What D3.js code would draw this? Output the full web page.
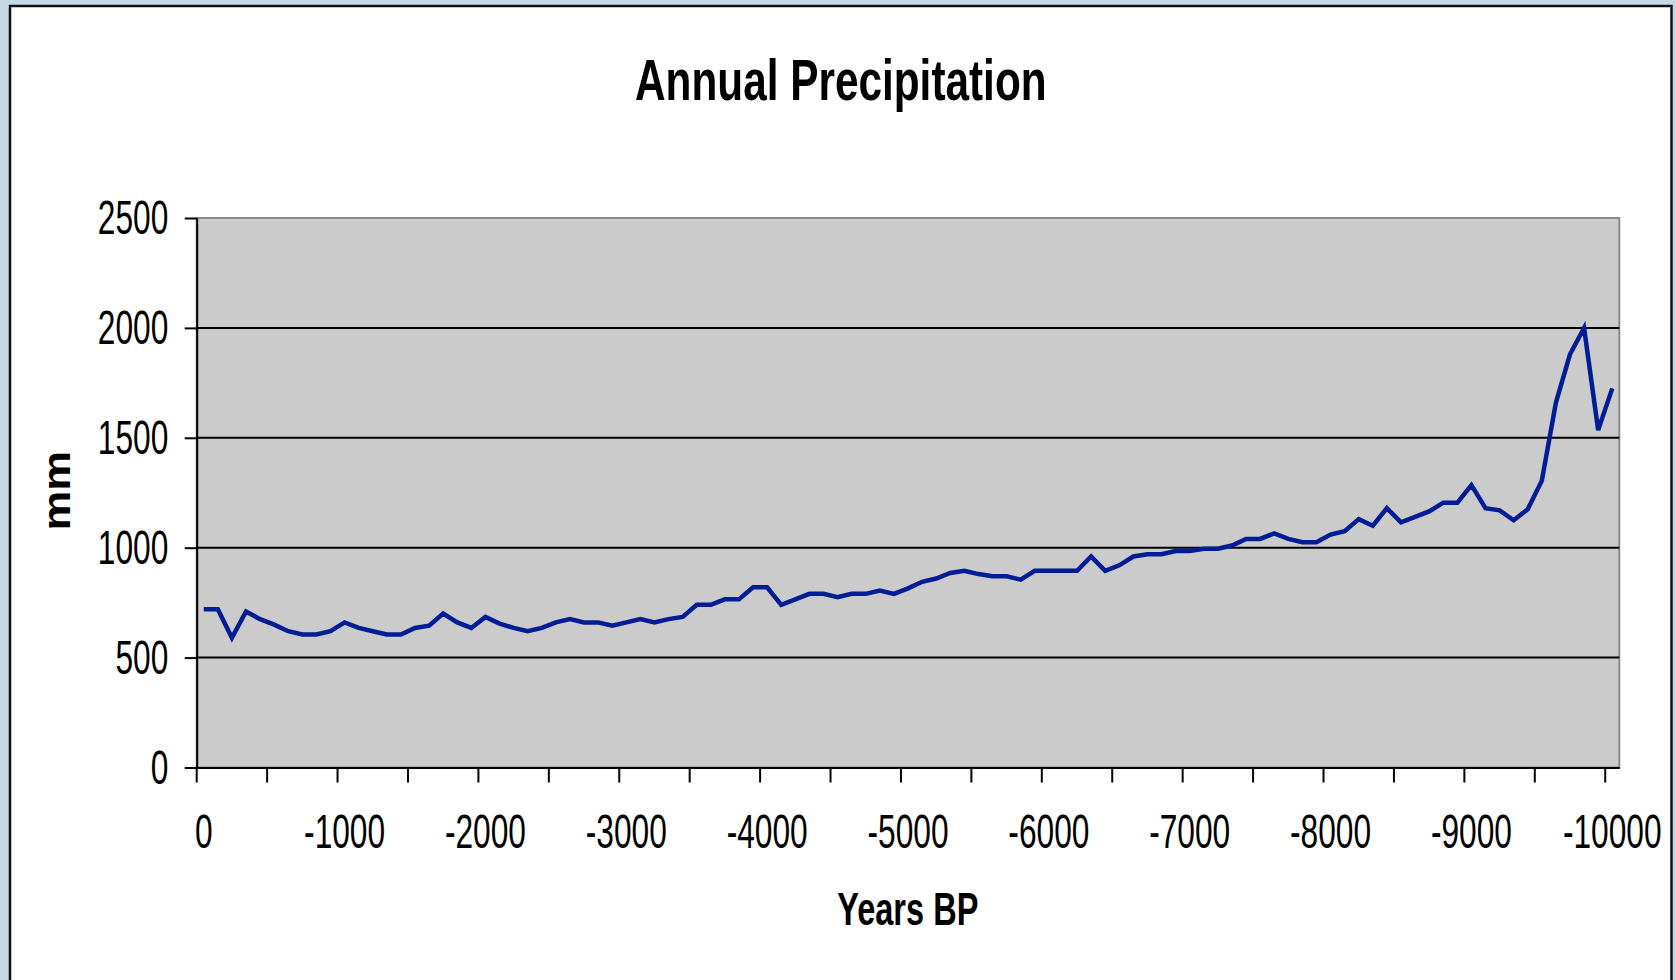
<!DOCTYPE html>
<html>
<head>
<meta charset="utf-8">
<title>Annual Precipitation</title>
<script src="https://cdnjs.cloudflare.com/ajax/libs/d3/7.8.5/d3.min.js"></script>
<style>
body { margin: 0; background: #c6d8e5; overflow: hidden; }
svg { display: block; }
text { font-family: "Liberation Sans", Arial, sans-serif; fill: #000; }
</style>
</head>
<body>
<div id="chart"></div>
<script>
// years before present, one category every 100 years
var years = [0, -100, -200, -300, -400, -500, -600, -700, -800, -900,
    -1000, -1100, -1200, -1300, -1400, -1500, -1600, -1700, -1800, -1900,
    -2000, -2100, -2200, -2300, -2400, -2500, -2600, -2700, -2800, -2900,
    -3000, -3100, -3200, -3300, -3400, -3500, -3600, -3700, -3800, -3900,
    -4000, -4100, -4200, -4300, -4400, -4500, -4600, -4700, -4800, -4900,
    -5000, -5100, -5200, -5300, -5400, -5500, -5600, -5700, -5800, -5900,
    -6000, -6100, -6200, -6300, -6400, -6500, -6600, -6700, -6800, -6900,
    -7000, -7100, -7200, -7300, -7400, -7500, -7600, -7700, -7800, -7900,
    -8000, -8100, -8200, -8300, -8400, -8500, -8600, -8700, -8800, -8900,
    -9000, -9100, -9200, -9300, -9400, -9500, -9600, -9700, -9800, -9900,
    -10000];

// annual precipitation (mm)
var precip = [720, 720, 590, 710, 675, 650, 620, 605, 605, 620,
    660, 635, 620, 605, 605, 635, 645, 700, 660, 635,
    685, 655, 635, 620, 635, 660, 675, 660, 660, 645,
    660, 675, 660, 675, 685, 740, 740, 765, 765, 820,
    820, 740, 765, 790, 790, 775, 790, 790, 805, 790,
    815, 845, 860, 885, 895, 880, 870, 870, 855, 895,
    895, 895, 895, 960, 895, 920, 960, 970, 970, 985,
    985, 995, 995, 1010, 1040, 1040, 1065, 1040, 1025, 1025,
    1060, 1075, 1130, 1100, 1180, 1115, 1140, 1165, 1205, 1205,
    1285, 1180, 1170, 1125, 1175, 1305, 1660, 1880, 2000, 1535,
    1725];

var yTicks = [0, 500, 1000, 1500, 2000, 2500];
var xLabelYears = [0, -1000, -2000, -3000, -4000, -5000, -6000, -7000, -8000, -9000, -10000];

var width = 1676,
    height = 980;

var plotLeft = 196.7,
    plotRight = 1619.3,
    plotTop = 218,
    plotBottom = 767.5;

var svg = d3.select("#chart").append("svg")
    .attr("width", width)
    .attr("height", height);

// white chart frame
svg.append("rect")
    .attr("x", 10)
    .attr("y", 6)
    .attr("width", 1661.5)
    .attr("height", 1000)
    .attr("fill", "#ffffff")
    .attr("stroke", "#111111")
    .attr("stroke-width", 2.5);

var xScale = d3.scaleBand()
    .domain(years)
    .range([plotLeft, plotRight]);

var yScale = d3.scaleLinear()
    .domain([0, 2500])
    .range([plotBottom, plotTop]);

// plot area
svg.append("rect")
    .attr("x", plotLeft)
    .attr("y", plotTop)
    .attr("width", plotRight - plotLeft)
    .attr("height", plotBottom - plotTop)
    .attr("fill", "#cbcbcb")
    .attr("stroke", "#8a8a8a")
    .attr("stroke-width", 2);

// gridlines
svg.append("g")
    .selectAll("line")
    .data(yTicks.filter(function(d) { return d > 0 && d < 2500; }))
    .enter()
    .append("line")
    .attr("x1", plotLeft)
    .attr("x2", plotRight)
    .attr("y1", function(d) { return yScale(d); })
    .attr("y2", function(d) { return yScale(d); })
    .attr("stroke", "#000")
    .attr("stroke-width", 2);

// y axis
var yAxis = svg.append("g")
    .attr("transform", "translate(" + plotLeft + ",0)")
    .call(d3.axisLeft(yScale).tickValues(yTicks).tickFormat(d3.format("d")).tickSize(12).tickSizeOuter(0));

yAxis.select(".domain").attr("stroke", "#000").attr("stroke-width", 2);
yAxis.selectAll(".tick line").attr("stroke", "#000").attr("stroke-width", 2);
yAxis.selectAll(".tick text")
    .attr("x", null)
    .attr("dy", "0.33em")
    .attr("text-anchor", "end")
    .attr("transform", "translate(-28.4,0) scale(0.66,1)")
    .style("font-size", "48px")
    .style("font-family", "'Liberation Sans', Arial, sans-serif");

// x axis (labels on every 10th category)
var xAxis = svg.append("g")
    .attr("transform", "translate(0," + plotBottom + ")")
    .call(d3.axisBottom(xScale).tickValues(xLabelYears).tickSize(0).tickSizeOuter(0));

xAxis.select(".domain").attr("stroke", "#000").attr("stroke-width", 2);
xAxis.selectAll(".tick text")
    .attr("y", null)
    .attr("dy", null)
    .attr("transform", "translate(0,80.8) scale(0.66,1)")
    .style("font-size", "48px")
    .style("font-family", "'Liberation Sans', Arial, sans-serif");

// tick marks between categories, every 5th
svg.append("g")
    .selectAll("line")
    .data(years.filter(function(d, i) { return i % 5 === 0; }))
    .enter()
    .append("line")
    .attr("x1", function(d) { return xScale(d); })
    .attr("x2", function(d) { return xScale(d); })
    .attr("y1", plotBottom)
    .attr("y2", plotBottom + 15)
    .attr("stroke", "#000")
    .attr("stroke-width", 2);

// the series
var line = d3.line()
    .x(function(d, i) { return xScale(years[i]) + xScale.bandwidth() / 2; })
    .y(function(d) { return yScale(d); });

svg.append("path")
    .datum(precip)
    .attr("d", line)
    .attr("fill", "none")
    .attr("stroke", "#001c96")
    .attr("stroke-width", 4.5)
    .attr("stroke-linejoin", "miter");

// titles
svg.append("text")
    .attr("transform", "translate(840.8,100) scale(0.73,1)")
    .attr("text-anchor", "middle")
    .style("font-size", "58px")
    .style("font-weight", "bold")
    .text("Annual Precipitation");

svg.append("text")
    .attr("transform", "translate(907.8,925) scale(0.70,1)")
    .attr("text-anchor", "middle")
    .style("font-size", "46.5px")
    .style("font-weight", "bold")
    .text("Years BP");

svg.append("text")
    .attr("transform", "translate(70,490.7) rotate(-90) scale(1.15,1)")
    .attr("text-anchor", "middle")
    .style("font-size", "39px")
    .style("font-weight", "bold")
    .text("mm");
</script>
</body>
</html>
